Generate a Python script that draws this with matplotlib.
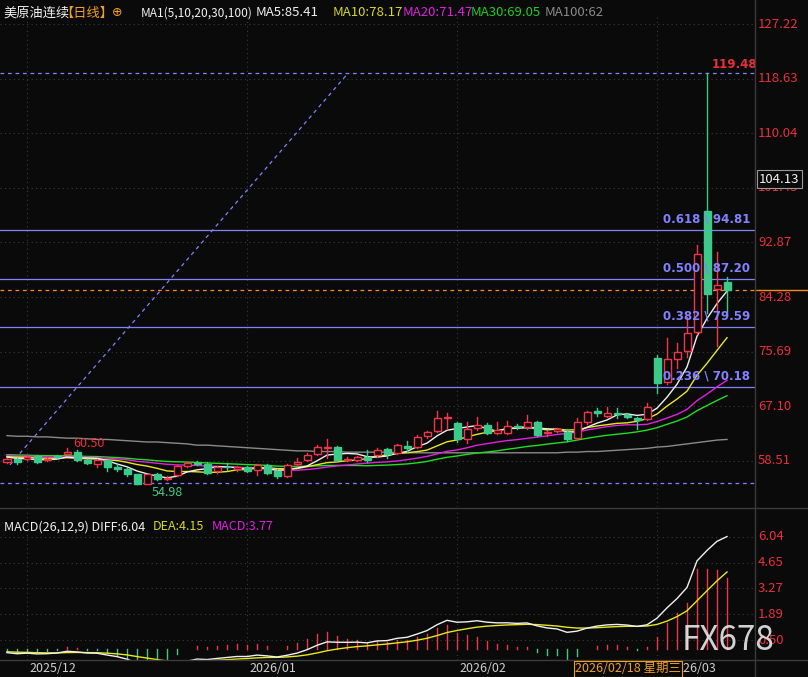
import numpy as np
import pandas as pd
import matplotlib
matplotlib.use("Agg")
import matplotlib.pyplot as plt
from matplotlib.patches import Rectangle

plt.rcParams['font.family'] = ['Noto Sans CJK SC', 'DejaVu Sans']

# ---------------- data ----------------
opens = [58.4,58.8,58.8,59.3,58.7,59.3,59.6,60.0,58.6,58.0,58.6,57.5,57.2,56.4,54.9,56.4,55.7,56.3,57.8,58.2,
         58.1,56.9,57.6,57.2,57.6,57.1,57.9,57.0,56.2,58.0,58.7,59.6,60.5,60.7,58.7,58.7,59.1,59.4,60.4,59.8,
         60.8,60.7,62.4,63.2,65.3,64.5,62.0,63.7,64.2,62.9,62.9,64.0,63.8,64.6,62.9,63.2,63.1,62.1,64.6,66.3,
         65.6,66.0,65.8,65.3,65.1,74.7,70.9,74.5,75.8,78.8,97.8,85.5,86.6]
closes = [58.8,58.3,59.2,58.4,58.9,59.2,60.0,58.6,58.2,58.6,57.5,57.3,56.4,54.9,56.4,55.7,55.9,57.7,58.2,58.1,
          56.6,57.5,57.5,57.6,57.0,57.9,56.6,56.2,57.9,58.4,59.5,60.7,60.7,58.7,58.9,59.1,58.6,60.3,59.6,61.0,
          60.6,62.3,63.1,65.3,65.4,62.0,63.5,64.2,62.9,63.4,64.0,63.8,64.6,62.6,62.9,63.5,61.9,64.6,66.2,66.1,
          66.0,65.9,65.4,65.0,67.0,70.8,74.5,75.6,78.6,91.1,84.8,86.2,85.4]
highs = [59.0,59.0,59.4,59.5,59.2,59.5,60.5,60.2,58.8,58.8,58.7,58.0,57.4,56.5,56.5,56.6,56.1,57.9,58.4,58.5,
         58.3,57.7,58.2,57.8,57.8,58.0,58.1,57.2,58.1,59.0,59.8,61.0,62.0,60.9,59.1,59.3,60.3,60.6,60.6,61.2,
         61.6,62.6,63.3,66.4,66.1,64.7,64.6,65.5,64.5,64.6,64.8,64.3,65.7,64.8,63.3,63.7,63.6,65.2,66.4,66.9,
         67.0,66.9,66.0,65.5,67.6,75.2,77.9,77.1,81.2,92.5,119.48,91.4,87.4]
lows = [58.2,58.1,58.6,58.2,58.5,59.0,59.4,58.5,58.0,57.6,56.9,57.0,56.2,54.98,54.9,55.5,55.5,56.1,57.6,57.9,
        56.4,56.7,57.1,57.0,56.8,56.3,56.4,55.9,56.0,57.8,58.5,59.4,59.0,58.5,58.5,58.5,58.3,59.2,59.0,59.6,
        59.9,60.5,62.2,63.0,63.5,61.5,61.3,63.4,62.7,62.7,62.7,63.5,63.6,62.4,62.5,63.0,61.6,61.9,64.4,65.6,
        65.4,65.3,65.2,63.5,64.9,69.2,70.6,73.1,74.9,78.5,81.8,76.6,81.8]
history_closes = [59.8,59.6,59.9,60.1,59.7,59.5,59.9,60.2,59.8,59.4,59.6,59.9,59.5,59.3,59.6,59.8,59.4,59.2,
                  59.5,59.7,59.3,59.1,59.4,59.6,59.2,59.0,59.3,59.5,59.1,58.9]
ma100 = [62.5,62.4,62.4,62.3,62.3,62.2,62.1,62.1,62.0,61.9,
         61.9,61.8,61.7,61.6,61.5,61.5,61.4,61.3,61.2,61.0,
         61.0,60.9,60.8,60.7,60.6,60.5,60.4,60.3,60.2,60.1,
         60.1,60.0,60.0,60.0,59.9,59.9,59.9,59.9,59.9,59.8,
         59.8,59.8,59.8,59.8,59.8,59.8,59.8,59.8,59.8,59.8,
         59.8,59.8,59.8,59.8,59.8,59.8,59.9,59.9,60.0,60.0,
         60.1,60.2,60.3,60.4,60.5,60.7,60.8,61.0,61.2,61.4,61.6,61.8,61.9]
price_ticks = [127.22,118.63,110.04,101.45,92.87,84.28,75.69,67.10,58.51]
fib_levels = [94.81,87.20,79.59,70.18]
fib_ratios = ["0.618","0.500","0.382","0.236"]
swing_high, swing_low = 119.48, 54.98
macd_ticks = [6.04,4.65,3.27,1.89,0.50]
month_idx = [2,24,45,65]
month_labels = ["2025/12","2026/01","2026/02","2026/03"]
diag_start, diag_end = (0.3, 57.9), (34.1, 119.48)

# ---------------- derived indicators ----------------
n = len(closes)
allc = pd.Series(history_closes + closes)
h = len(history_closes)
ma = {p: allc.rolling(p).mean().values[h:] for p in (5,10,20,30)}
ema12 = allc.ewm(span=12, adjust=False).mean()
ema26 = allc.ewm(span=26, adjust=False).mean()
diff = (ema12 - ema26)
dea = diff.ewm(span=9, adjust=False).mean()
diff, dea = diff.values[h:], dea.values[h:]
hist = 2*(diff - dea)
last_line = closes[-1]

# ---------------- figure ----------------
W, H = 808, 677
BG = '#0a0a0a'
RED = '#f0364a'
GRN = '#3cc98a'
LAV = '#8282ff'
AXR = '#e8303a'
fig = plt.figure(figsize=(W/100, H/100), dpi=100, facecolor=BG)

def fy(y): return 1 - y/H

xl = (-0.7, -0.7 + 755/10)
ax = fig.add_axes([0, fy(507), 755/W, (507-14)/H], facecolor=BG)
ax2 = fig.add_axes([0, fy(660), 755/W, (660-512)/H], facecolor=BG)
for a in (ax, ax2):
    a.set_xlim(*xl)
    for s in a.spines.values(): s.set_visible(False)
    a.set_xticks([]); a.set_yticks([])
ppu = 6.36
ax.set_ylim(58.51 - (507-461)/ppu, 58.51 + (461-14)/ppu)
mppu = 18.6
ax2.set_ylim(0.50 - (660-640)/mppu, 0.50 + (640-512)/mppu)

# grid
for p in price_ticks:
    ax.axhline(p, color='#3a3a3a', lw=0.8, ls=(0,(1,3)))
for i in month_idx:
    ax.axvline(i, color='#3a3a3a', lw=0.8, ls=(0,(1,3)))
    ax2.axvline(i, color='#3a3a3a', lw=0.8, ls=(0,(1,3)))
for p in macd_ticks:
    ax2.axhline(p, color='#3a3a3a', lw=0.8, ls=(0,(1,3)))

# fib lines
for r, lv in zip(fib_ratios, fib_levels):
    ax.axhline(lv, color=LAV, lw=0.9)
    ax.text(74.3, lv + 0.7, f"{r} \\ {lv:.2f}", color=LAV, fontsize=8.5, fontweight='bold',
            ha='right', va='bottom', family='DejaVu Sans', zorder=10)
ax.axhline(swing_high, color=LAV, lw=0.9, ls=(0,(3,3)))
ax.axhline(swing_low, color=LAV, lw=0.9, ls=(0,(3,3)))
ax.plot([diag_start[0], diag_end[0]], [diag_start[1], diag_end[1]], color=LAV, lw=0.9, ls=(0,(3,3)))
ax.axhline(last_line, color='#ff8c1a', lw=0.9, ls=(0,(3,3)))
yl = 461 - (last_line - 58.51)*ppu
fig.add_artist(plt.Line2D([755/W, 1], [fy(yl), fy(yl)], color='#ff8c1a', lw=1.0))

# MAs
xs = np.arange(n)
ax.plot(xs, ma100, color='#8a8a8a', lw=1.0)
ax.plot(xs, ma[30], color='#22dd22', lw=1.0)
ax.plot(xs, ma[20], color='#e020e0', lw=1.0)
ax.plot(xs, ma[10], color='#e8e820', lw=1.0)
ax.plot(xs, ma[5], color='#f0f0f0', lw=1.0)

# candles
bw = 0.7
for i in range(n):
    o, c, hi, lo = opens[i], closes[i], highs[i], lows[i]
    up = c >= o
    col = RED if up else GRN
    top, bot = max(o, c), min(o, c)
    ax.plot([i, i], [top, hi], color=col, lw=1.0, zorder=3)
    ax.plot([i, i], [lo, bot], color=col, lw=1.0, zorder=3)
    hgt = max(top - bot, 0.12)
    ax.add_patch(Rectangle((i - bw/2, bot), bw, hgt, facecolor=BG if up else col,
                           edgecolor=col, lw=1.0, zorder=4))

imax = int(np.argmax(highs)); imin = int(np.argmin(lows))
ax.text(imax + 0.5, swing_high + 0.3, f"{swing_high:.2f}", color=AXR, fontsize=8.5, fontweight='bold',
        ha='left', va='bottom', family='DejaVu Sans')
ax.text(imin + 0.5, swing_low - 0.4, f"{swing_low:.2f}", color=GRN, fontsize=9, ha='left', va='top')
i605 = 6
ax.text(i605 + 0.6, highs[i605] - 0.3, "60.50", color=AXR, fontsize=9, ha='left', va='bottom')

# MACD panel
for i in range(n):
    col = RED if hist[i] >= 0 else GRN
    ax2.plot([i, i], [0, hist[i]], color=col, lw=1.0)
ax2.plot(xs, dea, color='#e8e820', lw=1.0)
ax2.plot(xs, diff, color='#f0f0f0', lw=1.0)

# right axis labels
for p in price_ticks:
    fig.text(758/W, fy(461 - (p - 58.51)*ppu), f"{p:.2f}", color=AXR, fontsize=9.5, va='center', ha='left')
for p in macd_ticks:
    fig.text(758/W, fy(640 - (p - 0.50)*mppu), f"{p:.2f}", color=AXR, fontsize=9.5, va='center', ha='left')
fig.text(759/W, fy(179), "104.13", color='#f0f0f0', fontsize=9.5, va='center', ha='left',
         bbox=dict(facecolor=BG, edgecolor='#9a9a9a', pad=1.5, lw=0.8), zorder=10)

# separators
fig.add_artist(plt.Line2D([0, 1], [fy(508), fy(508)], color='#3a3a3a', lw=1))
fig.add_artist(plt.Line2D([0, 1], [fy(660), fy(660)], color='#3a3a3a', lw=1))
fig.add_artist(plt.Line2D([755/W, 755/W], [0, 1], color='#3a3a3a', lw=1))

# header
hy = fy(13)
fig.text(3/W, hy, "美原油连续", color='#f0f0f0', fontsize=9.5, va='center')
fig.text(60/W, hy, "【日线】", color='#f0a020', fontsize=9.5, va='center')
fig.text(112/W, hy, "⊕", color='#f0a020', fontsize=9, va='center', family='DejaVu Sans')
fig.text(141/W, hy, "MA1(5,10,20,30,100)", color='#f0f0f0', fontsize=8.6, va='center')
fig.text(256/W, hy, "MA5:85.41", color='#f0f0f0', fontsize=9.5, va='center')
fig.text(333/W, hy, "MA10:78.17", color='#d8d820', fontsize=9.5, va='center')
fig.text(403/W, hy, "MA20:71.47", color='#e020e0', fontsize=9.5, va='center')
fig.text(471/W, hy, "MA30:69.05", color='#22cc22', fontsize=9.5, va='center')
fig.text(545/W, hy, "MA100:62", color='#8a8a8a', fontsize=9.5, va='center')

my = fy(527)
fig.text(4/W, my, "MACD(26,12,9) DIFF:6.04", color='#f0f0f0', fontsize=9, va='center')
fig.text(153/W, my, "DEA:4.15", color='#d8d820', fontsize=9, va='center')
fig.text(212/W, my, "MACD:3.77", color='#e020e0', fontsize=9, va='center')

# date axis
for i, lab in zip(month_idx[:3], month_labels[:3]):
    fig.text((7 + 10*i + 2)/W, fy(669), lab, color='#cfcfcf', fontsize=9, va='center', ha='left')
fig.text(669/W, fy(669), month_labels[3], color='#cfcfcf', fontsize=9, va='center', ha='left', zorder=1)
fig.text(575/W, fy(669), "2026/02/18 星期三", color='#f0a020', fontsize=9, va='center', ha='left',
         bbox=dict(facecolor=BG, edgecolor='#f0a020', pad=1.0, lw=0.8), zorder=10)

fig.text(728/W, fy(640), "FX678", color='#e8e8e8', fontsize=24, va='center', ha='center', alpha=0.9, zorder=10)

fig.savefig("out.png", dpi=100, facecolor=BG)
